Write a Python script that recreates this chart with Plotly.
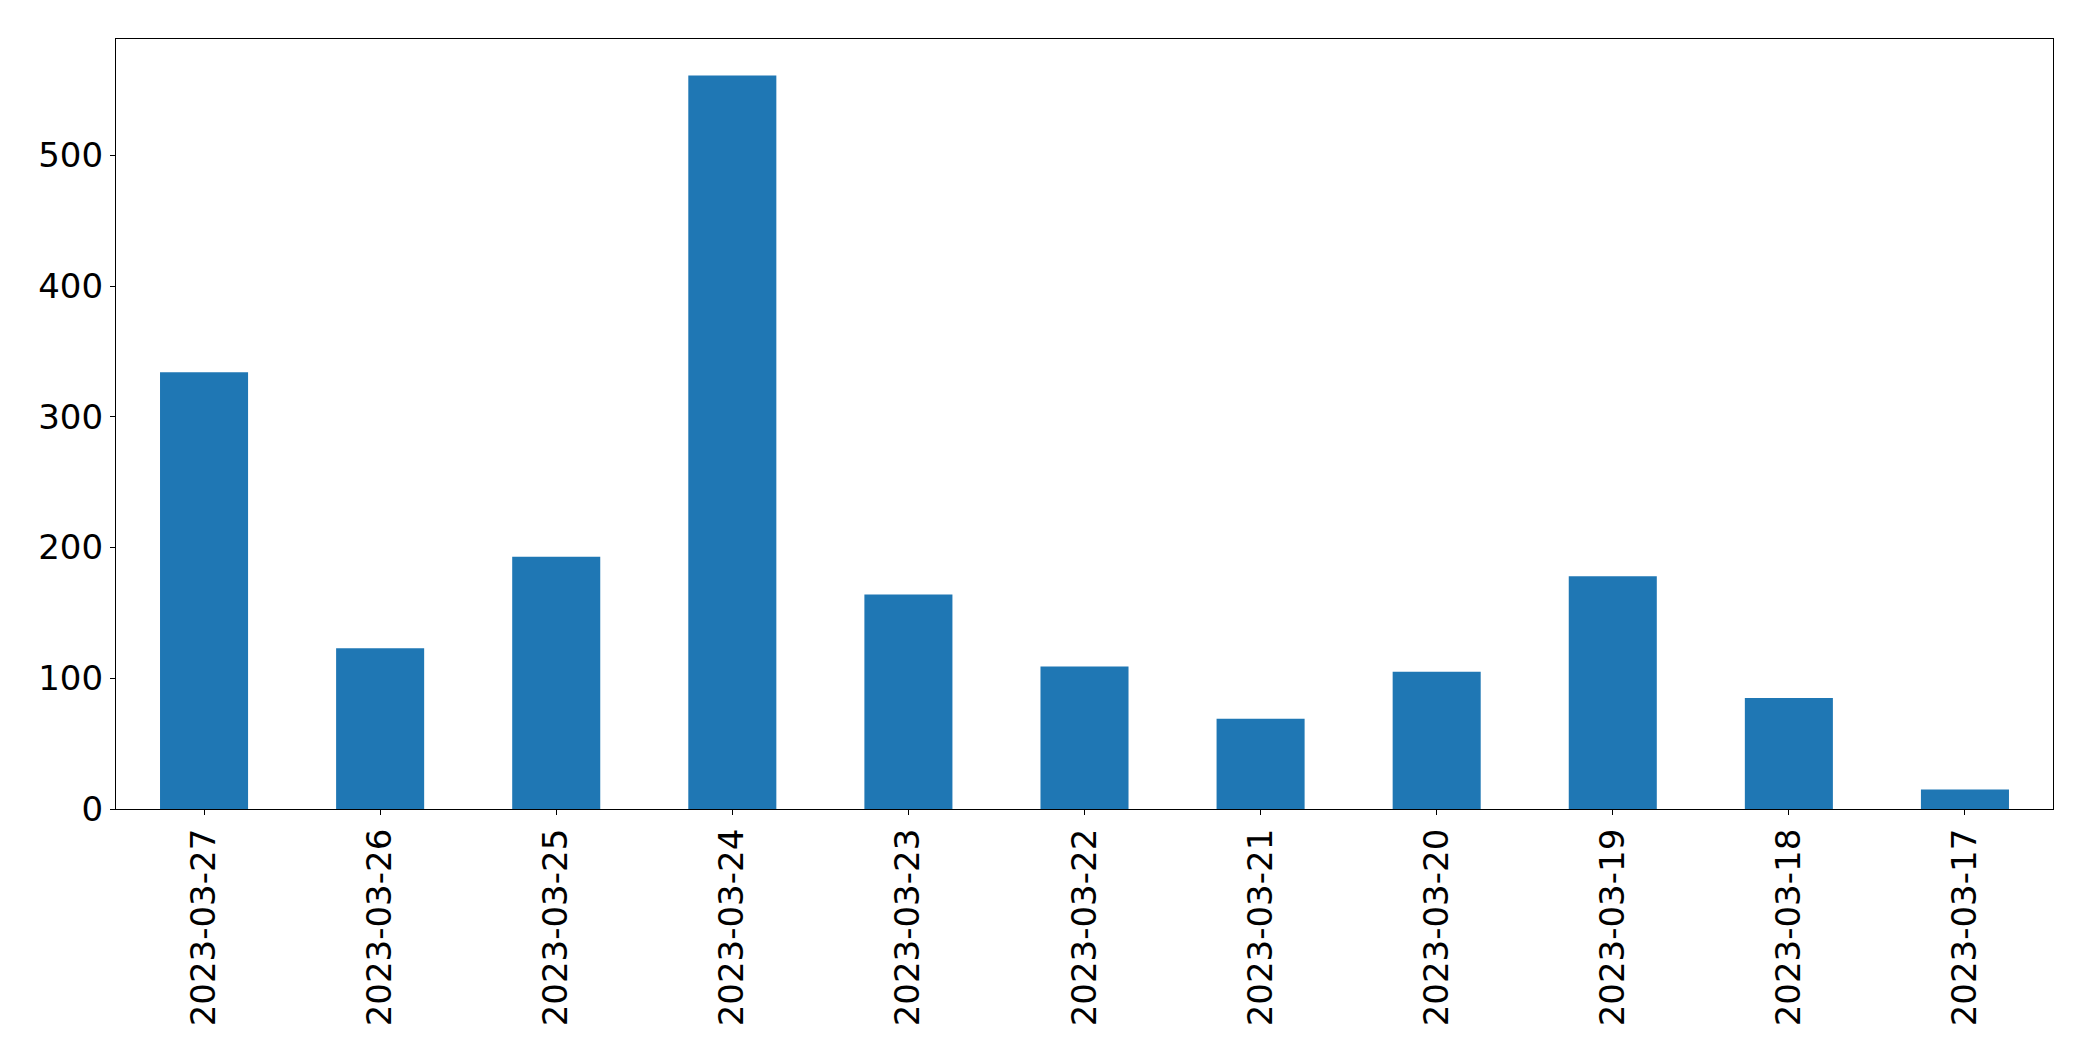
import plotly.graph_objects as go

dates = ["2023-03-27", "2023-03-26", "2023-03-25", "2023-03-24", "2023-03-23",
         "2023-03-22", "2023-03-21", "2023-03-20", "2023-03-19", "2023-03-18",
         "2023-03-17"]
counts = [334, 123, 193, 561, 164, 109, 69, 105, 178, 85, 15]
y_ticks = [0, 100, 200, 300, 400, 500]

fig = go.Figure(go.Bar(x=dates, y=counts, width=0.5, marker=dict(color="#1f77b4", line=dict(width=0))))

font = dict(family="DejaVu Sans", size=34, color="black")
fig.update_layout(
    width=2093, height=1061,
    margin=dict(l=116, r=40, t=39, b=252, pad=0),
    paper_bgcolor="white", plot_bgcolor="white",
    showlegend=False,
    font=font,
)
fig.update_xaxes(
    type="category", range=[-0.5, 10.5], tickangle=-90,
    showline=True, linecolor="black", linewidth=1.3, mirror=True,
    ticks="outside", ticklen=5, tickwidth=1.3, tickcolor="black",
    showgrid=False, zeroline=False, tickfont=font,
)
fig.update_yaxes(
    range=[0, 589], tickvals=y_ticks, ticktext=[str(v) for v in y_ticks],
    showline=True, linecolor="black", linewidth=1.3, mirror=True,
    ticks="outside", ticklen=5, tickwidth=1.3, tickcolor="black",
    showgrid=False, zeroline=False, tickfont=font,
)
fig.write_html("out.html")
